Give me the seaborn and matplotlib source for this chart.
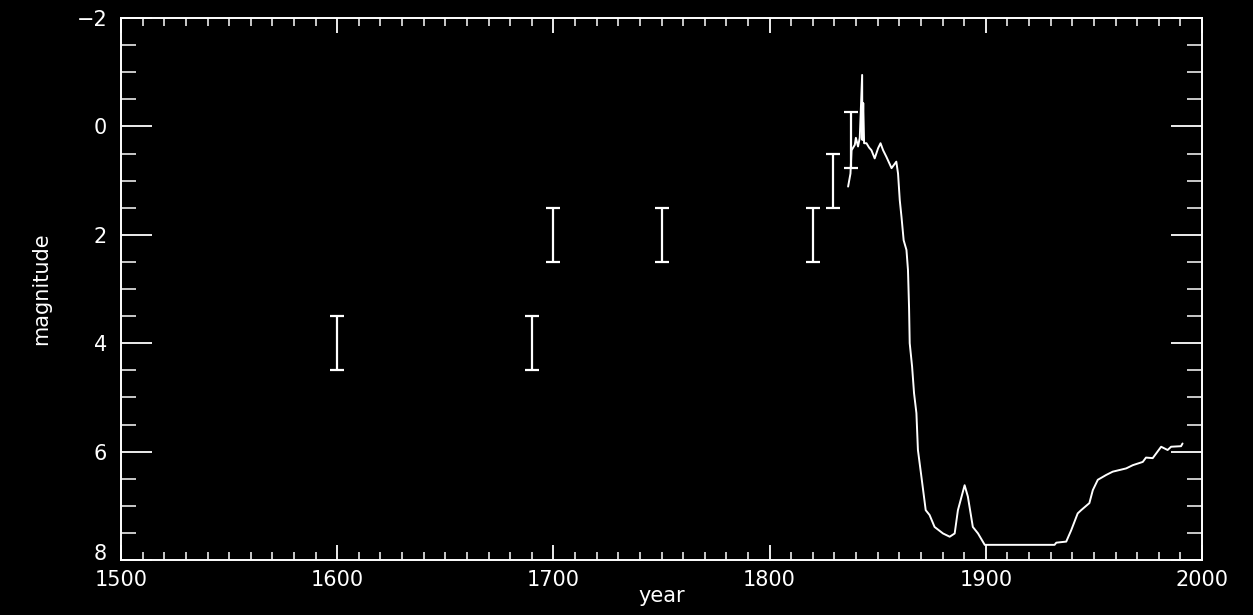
import numpy as np
import pandas as pd
import matplotlib
matplotlib.use("Agg")
import matplotlib.pyplot as plt
import matplotlib.transforms as mtransforms
import seaborn as sns
from matplotlib.ticker import MultipleLocator

# Historical estimates (error bars)
est_year = [1600, 1690, 1700, 1750, 1820, 1829.5, 1837.5]
est_mag = [4.0, 4.0, 2.0, 2.0, 2.0, 1.0, 0.25]
est_err = [0.5, 0.5, 0.5, 0.5, 0.5, 0.5, 0.52]

# Light curve
curve_year = [1836.3, 1837.4, 1837.9, 1839.4, 1839.9, 1840.9, 1841.7, 1842.8, 1842.9,
              1843.3, 1843.7, 1844.8, 1846.0, 1847.1, 1848.6, 1850.2, 1851.3, 1852.5,
              1854.0, 1856.4, 1858.6, 1859.4, 1860.2, 1861.0, 1862.0, 1863.3, 1864.0,
              1864.5, 1864.8, 1865.9, 1866.8, 1867.9, 1868.6, 1870.2, 1872.2, 1874.0,
              1876.3, 1880.2, 1883.3, 1885.6, 1887.1, 1890.2, 1891.7, 1894.0, 1896.4,
              1899.5, 1931.8, 1932.6, 1937.2, 1939.5, 1942.5, 1944.1, 1947.9, 1949.5,
              1951.8, 1955.7, 1958.7, 1964.9, 1968.0, 1972.6, 1974.1, 1977.2, 1981.1,
              1984.1, 1985.7, 1990.3, 1991.0]
curve_mag = [1.11, 0.87, 0.44, 0.34, 0.21, 0.37, 0.21, -0.95, 0.25,
             -0.43, 0.31, 0.31, 0.39, 0.44, 0.59, 0.40, 0.31, 0.44,
             0.56, 0.77, 0.65, 0.87, 1.36, 1.67, 2.10, 2.28, 2.65,
             3.35, 4.00, 4.43, 4.92, 5.29, 5.97, 6.46, 7.08, 7.17,
             7.39, 7.51, 7.57, 7.51, 7.08, 6.62, 6.83, 7.39, 7.51,
             7.72, 7.72, 7.68, 7.66, 7.45, 7.14, 7.08, 6.95, 6.71,
             6.52, 6.43, 6.37, 6.31, 6.25, 6.19, 6.11, 6.12, 5.91,
             5.97, 5.91, 5.90, 5.85]

x_ticks = [1500, 1600, 1700, 1800, 1900, 2000]
y_ticks = [-2, 0, 2, 4, 6, 8]

sns.set_style("dark", {"axes.facecolor": "black", "figure.facecolor": "black"})
plt.rcParams["font.family"] = ["DejaVu Sans"]

fig = plt.figure(figsize=(12.53, 6.15), dpi=100, facecolor="black")
ax = fig.add_axes([0.0966, 0.0894, 0.8627, 0.8813])
ax.set_facecolor("black")

df = pd.DataFrame({"year": curve_year, "mag": curve_mag})
sns.lineplot(data=df, x="year", y="mag", ax=ax, color="white", lw=1.4,
             estimator=None, sort=False)

ax.errorbar(est_year, est_mag, yerr=est_err, fmt="none", ecolor="white",
            elinewidth=1.6, capsize=5, capthick=1.6)

ax.set_xlim(1500, 2000)
ax.set_ylim(8, -2)
ax.set_xticks(x_ticks)
ax.set_yticks(y_ticks)
ax.xaxis.set_minor_locator(MultipleLocator(10))
ax.yaxis.set_minor_locator(MultipleLocator(0.5))

for s in ax.spines.values():
    s.set_color("white")
    s.set_linewidth(1.4)
ax.grid(False)

ax.tick_params(axis="x", which="major", direction="in", length=11, width=1.3,
               colors="white", top=True, bottom=True, labelsize=15, pad=7)
ax.tick_params(axis="x", which="minor", direction="in", length=5.5, width=1.1,
               colors="white", top=True, bottom=True)
ax.tick_params(axis="y", which="major", direction="in", length=22, width=1.3,
               colors="white", left=True, right=True, labelsize=15, pad=10)
ax.tick_params(axis="y", which="minor", direction="in", length=11, width=1.1,
               colors="white", left=True, right=True)

ax.set_xlabel("year", color="white", fontsize=15, labelpad=-3)
ax.set_ylabel("magnitude", color="white", fontsize=15, labelpad=18)

fig.canvas.draw()
# nudge the bottom y tick label ("8") up slightly so it clears "1500"
lbl = ax.yaxis.get_major_ticks()[-1].label1
lbl.set_transform(lbl.get_transform() +
                  mtransforms.ScaledTranslation(0, 6 / 72, fig.dpi_scale_trans))

fig.savefig("out.png", dpi=100, facecolor="black")
